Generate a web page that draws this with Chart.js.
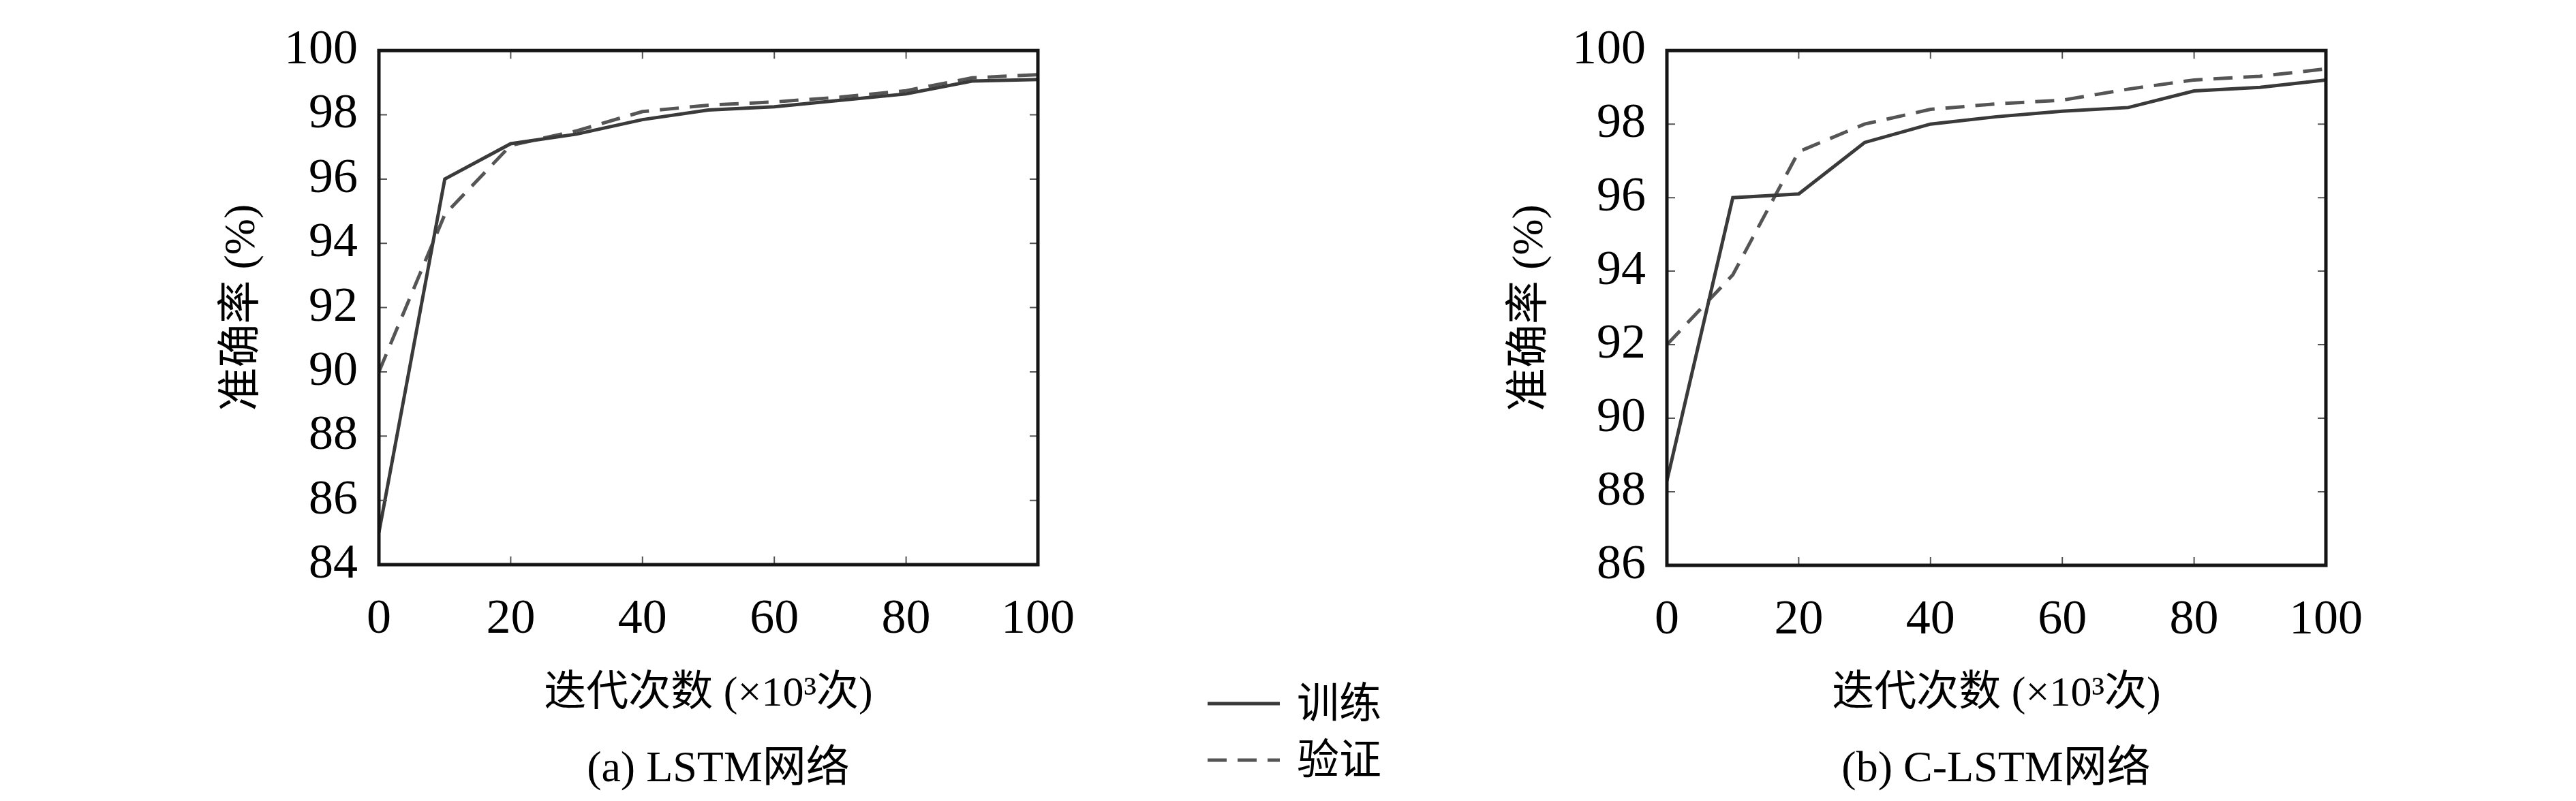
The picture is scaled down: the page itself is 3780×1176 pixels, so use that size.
<!DOCTYPE html>
<html>
<head>
<meta charset="utf-8">
<script src="https://cdn.jsdelivr.net/npm/chart.js@4.4.0/dist/chart.umd.min.js"></script>
<style>
  html, body { margin: 0; padding: 0; background: #fff; }
  body {
    width: 3780px; height: 1176px; position: relative; overflow: hidden;
    font-family: 'Liberation Serif', 'DejaVu Serif', 'Noto Sans CJK SC', serif; color: #000;
  }
  canvas { position: absolute; top: 0; }
  #chartA { left: 0; }
  #chartB { left: 1890px; }
  .caption {
    position: absolute; font-size: 64px; white-space: nowrap;
    transform: translate(-50%, -50%); line-height: 1;
  }
  .legend-row {
    position: absolute; left: 1772px; height: 80px;
    display: flex; align-items: center; font-size: 62px; line-height: 1;
  }
  .legend-row svg { margin-right: 25px; }
</style>
</head>
<body>
<canvas id="chartA" width="1700" height="1176"></canvas>
<canvas id="chartB" width="1890" height="1176"></canvas>

<div class="legend-row" style="top: 993px;">
  <svg width="106" height="10"><line x1="0" y1="5" x2="106" y2="5" stroke="#3a3a3a" stroke-width="5"/></svg>
  <span>训练</span>
</div>
<div class="legend-row" style="top: 1076px;">
  <svg width="106" height="10"><line x1="0" y1="5" x2="106" y2="5" stroke="#555" stroke-width="5" stroke-dasharray="28 16"/></svg>
  <span>验证</span>
</div>

<div class="caption" style="left: 1054px; top: 1126px;">(a) LSTM网络</div>
<div class="caption" style="left: 2929px; top: 1126px;">(b) C-LSTM网络</div>

<script>
// iterations (x 10^3)
const iterations = [0, 10, 20, 30, 40, 50, 60, 70, 80, 90, 100];
const xTicks = [0, 20, 40, 60, 80, 100];

// (a) LSTM
const lstmTrain = [85.0, 96.0, 97.1, 97.4, 97.85, 98.15, 98.25, 98.45, 98.65, 99.05, 99.1];
const lstmValid = [90.0, 94.9, 97.05, 97.5, 98.1, 98.3, 98.4, 98.55, 98.75, 99.15, 99.25];
const lstmYRange = [84, 100];

// (b) C-LSTM
const clstmTrain = [88.3, 96.0, 96.1, 97.5, 98.0, 98.2, 98.35, 98.45, 98.9, 99.0, 99.2];
const clstmValid = [92.0, 93.9, 97.25, 98.0, 98.4, 98.55, 98.65, 98.95, 99.2, 99.3, 99.5];
const clstmYRange = [86, 100];

const FONT = "'Liberation Serif', 'DejaVu Serif', 'Noto Sans CJK SC', serif";

// box frame + inward ticks on all four sides
const framePlugin = {
  id: 'frame',
  afterDatasetsDraw(chart) {
    const { ctx, chartArea: a, scales } = chart;
    const len = 12;
    ctx.save();
    ctx.strokeStyle = '#555';
    ctx.lineWidth = 2;
    ctx.beginPath();
    scales.x.ticks.forEach((t) => {
      const px = scales.x.getPixelForValue(t.value);
      ctx.moveTo(px, a.bottom);
      ctx.lineTo(px, a.bottom - len);
      ctx.moveTo(px, a.top);
      ctx.lineTo(px, a.top + len);
    });
    scales.y.ticks.forEach((t) => {
      const py = scales.y.getPixelForValue(t.value);
      ctx.moveTo(a.left, py);
      ctx.lineTo(a.left + len, py);
      ctx.moveTo(a.right, py);
      ctx.lineTo(a.right - len, py);
    });
    ctx.stroke();
    ctx.strokeStyle = '#151515';
    ctx.lineWidth = 5;
    ctx.strokeRect(a.left, a.top, a.width, a.height);
    ctx.restore();
  },
};

const makeChart = (id, train, valid, yRange, top, bottom, width) => {
  const ctx = document.getElementById(id);
  return new Chart(ctx, {
    type: 'line',
    data: {
      labels: iterations,
      datasets: [
        {
          label: '训练',
          data: iterations.map((x, i) => ({ x: x, y: train[i] })),
          borderColor: '#3a3a3a',
          borderWidth: 5,
          pointRadius: 0,
          tension: 0,
        },
        {
          label: '验证',
          data: iterations.map((x, i) => ({ x: x, y: valid[i] })),
          borderColor: '#555',
          borderWidth: 5,
          borderDash: [28, 16],
          pointRadius: 0,
          tension: 0,
        },
      ],
    },
    options: {
      responsive: false,
      animation: false,
      devicePixelRatio: 1,
      layout: { padding: { left: 0, top: top, right: width - 1523, bottom: 0 } },
      plugins: { legend: { display: false }, tooltip: { enabled: false } },
      scales: {
        x: {
          type: 'linear',
          min: 0,
          max: 100,
          afterBuildTicks: (scale) => {
            scale.ticks = xTicks.map((v) => ({ value: v }));
          },
          afterFit: (scale) => {
            scale.height = 1176 - bottom;
          },
          grid: { display: false, drawTicks: false },
          border: { display: false },
          ticks: { color: '#000', padding: 38, font: { family: FONT, size: 72 } },
          title: {
            display: true,
            text: '迭代次数 (×10³次)',
            color: '#000',
            font: { family: FONT, size: 62 },
            padding: { top: 0, bottom: 119 },
          },
        },
        y: {
          min: yRange[0],
          max: yRange[1],
          afterFit: (scale) => {
            scale.width = 556;
          },
          grid: { display: false, drawTicks: false },
          border: { display: false },
          ticks: { stepSize: 2, color: '#000', padding: 31, font: { family: FONT, size: 72 } },
          title: {
            display: true,
            text: '准确率 (%)',
            color: '#000',
            font: { family: FONT, size: 64 },
            padding: { top: 318, bottom: 0 },
          },
        },
      },
    },
    plugins: [framePlugin],
  });
};

makeChart('chartA', lstmTrain, lstmValid, lstmYRange, 29, 829, 1700);
makeChart('chartB', clstmTrain, clstmValid, clstmYRange, 21, 830, 1890);
</script>
</body>
</html>
